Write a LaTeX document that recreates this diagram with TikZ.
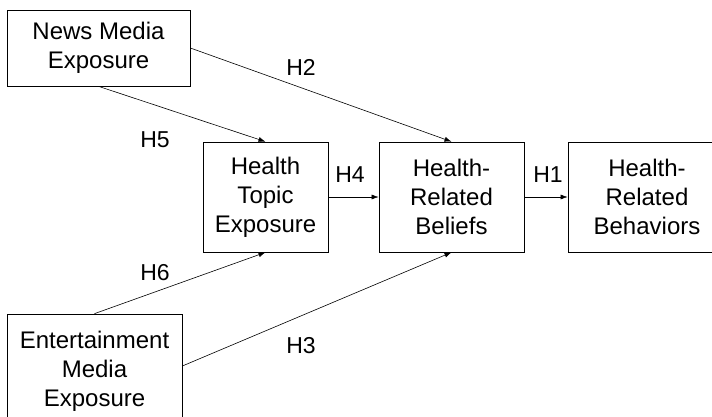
\documentclass[tikz,border=0pt]{standalone}
\usepackage{fontspec}
\setmainfont{Liberation Sans}
\usetikzlibrary{arrows.meta}
\tikzset{
  box/.style={draw, line width=0.7pt, align=center, inner sep=0pt, font=\fontsize{24}{29}\selectfont},
  hyp/.style={font=\fontsize{23}{29}\selectfont, inner sep=0pt},
  link/.style={-{Latex[length=7pt,width=5pt]}, line width=0.6pt}
}

\begin{document}
\begin{tikzpicture}[x=1pt,y=-1pt]
    \useasboundingbox (0,0) rectangle (712,417);
    \clip (0,0) rectangle (712,417);

    % Media exposure
    \node[box, minimum width=183pt, minimum height=76pt] (news) at (98.5,48) {News Media\\Exposure};
    \node[box, minimum width=175pt, minimum height=114pt] (ent) at (94.5,371) {Entertainment\\Media\\Exposure};

    % Main row
    \node[box, minimum width=125pt, minimum height=110pt] (topic) at (265.5,197) {Health\\Topic\\Exposure};
    \node[box, minimum width=145pt, minimum height=110pt] (beliefs) at (451.5,197) {Health-\\Related\\Beliefs};
    \node[box, minimum width=158pt, minimum height=110pt] (behav) at (647,197) {Health-\\Related\\Behaviors};

    % Paths
    \draw[link] (news.south) -- (topic.north);
    \draw[link] (news.east) -- (beliefs.north);
    \draw[link] (ent.north) -- (topic.south);
    \draw[link] ([yshift=5pt]ent.east) -- (beliefs.south);
    \draw[link] (topic.east) -- (beliefs.west);
    \draw[link] (beliefs.east) -- (behav.west);

    % Hypotheses
    \node[hyp] (h1) at (548,175) {H1};
    \node[hyp] (h2) at (301,67) {H2};
    \node[hyp] (h3) at (301,346) {H3};
    \node[hyp] (h4) at (350,175) {H4};
    \node[hyp] (h5) at (155,140) {H5};
    \node[hyp] (h6) at (155,273) {H6};
\end{tikzpicture}
\end{document}
